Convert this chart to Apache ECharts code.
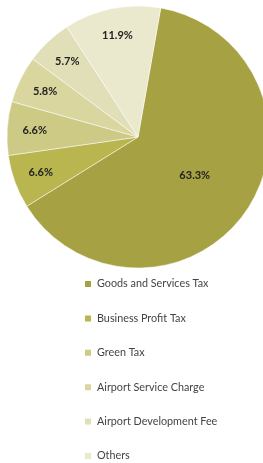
<!DOCTYPE html>
<html>
<head>
<meta charset="utf-8">
<script src="https://cdn.jsdelivr.net/npm/echarts@6/dist/echarts.min.js"></script>
<style>
  html, body { margin: 0; padding: 0; background: #fff; }
  #chart { width: 263px; height: 463px; }
</style>
</head>
<body>
<div id="chart"></div>
<script>
// revenue share by source
var names = ['Goods and Services Tax', 'Business Profit Tax', 'Green Tax',
  'Airport Service Charge', 'Airport Development Fee', 'Others']
var shares = [63.3, 6.6, 6.6, 5.8, 5.7, 11.9]
var colors = ['#a6a143', '#b9b54f', '#cdca85', '#d9d6a0', '#e1dfb7', '#eae8cd']

var chart = echarts.init(document.getElementById('chart'))

var pieData = names.map(function (n, i) {
  return { name: n, value: shares[i] }
})

var labelStyle = {
  fontFamily: 'Lato',
  fontWeight: 'bold',
  fontSize: 11,
  color: '#222'
}

chart.setOption({
  color: colors,
  animation: false,
  legend: {
    orient: 'vertical',
    left: 78,
    top: 273,
    height: 190,
    padding: 5,
    icon: 'rect',
    itemWidth: 8,
    itemHeight: 8,
    itemGap: 22.4,
    textStyle: { fontFamily: 'Lato', fontSize: 10.8, color: '#444', lineHeight: 12 },
    data: names
  },
  series: [
    {
      // the big slice gets its label halfway out
      type: 'pie',
      center: [138, 137],
      radius: [0, 131],
      startAngle: 80,
      clockwise: true,
      itemStyle: { borderColor: '#fff', borderWidth: 0.5 },
      label: {
        show: true,
        position: 'inside',
        formatter: function (p) { return p.dataIndex === 0 ? p.value.toFixed(1) + '%' : '' }
      },
      labelLine: { show: false },
      emphasis: { disabled: true },
      data: pieData
    },
    {
      // transparent ring only used to place the small slice labels further out
      type: 'pie',
      center: [138, 137],
      radius: [70, 131],
      startAngle: 80,
      clockwise: true,
      silent: true,
      legendHoverLink: false,
      itemStyle: { color: 'rgba(0,0,0,0)', borderWidth: 0 },
      label: {
        show: true,
        position: 'inside',
        formatter: function (p) { return p.dataIndex === 0 ? '' : p.value.toFixed(1) + '%' }
      },
      labelLine: { show: false },
      emphasis: { disabled: true },
      data: pieData
    }
  ]
})

chart.setOption({
  series: [
    { label: labelStyle },
    { label: labelStyle }
  ]
})
</script>
</body>
</html>
